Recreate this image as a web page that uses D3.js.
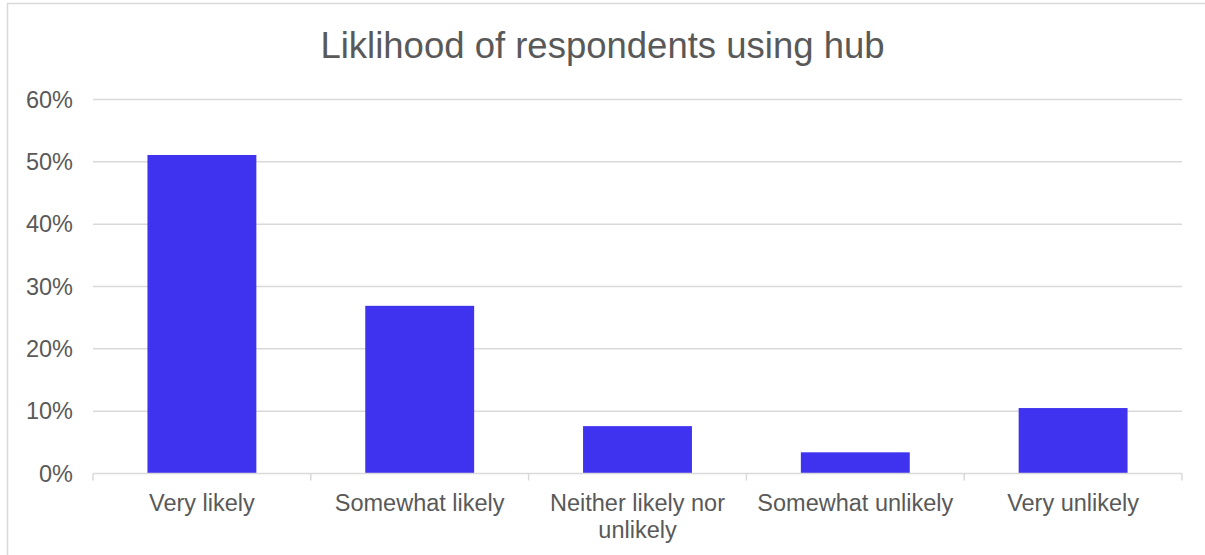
<!DOCTYPE html>
<html>
<head>
<meta charset="utf-8">
<style>
  body { margin: 0; background: #fff; }
  svg { display: block; font-family: "Liberation Sans", Arial, sans-serif; }
</style>
</head>
<body>
<svg id="chart" width="1205" height="555"></svg>
<script src="https://cdn.jsdelivr.net/npm/d3@7"></script>
<script>
// data
var categories = ["Very likely", "Somewhat likely", "Neither likely nor unlikely", "Somewhat unlikely", "Very unlikely"];
var values = [0.511, 0.269, 0.076, 0.034, 0.105];
var yTicks = [0, 0.1, 0.2, 0.3, 0.4, 0.5, 0.6];
var title = "Liklihood of respondents using hub";

var svg = d3.select("#chart");
var margin = { left: 93, right: 1182, top: 99.5, bottom: 473.5 };

// outer chart frame
svg.append("rect")
  .attr("x", 7.5).attr("y", 3.5)
  .attr("width", 1300).attr("height", 700)
  .attr("fill", "white")
  .attr("stroke", "#d9d9d9")
  .attr("stroke-width", 1.5);

var x = d3.scaleBand()
  .domain(categories)
  .range([margin.left, margin.right])
  .paddingInner(0.5)
  .paddingOuter(0.25);

var y = d3.scaleLinear()
  .domain([0, 0.6])
  .range([margin.bottom, margin.top]);

// gridlines
svg.append("g")
  .selectAll("line")
  .data(yTicks.filter(d => d > 0))
  .enter()
  .append("line")
  .attr("x1", margin.left).attr("x2", margin.right)
  .attr("y1", d => y(d)).attr("y2", d => y(d))
  .attr("stroke", "#d9d9d9")
  .attr("stroke-width", 1.5);

// y labels
var yAxis = d3.axisLeft(y).tickValues(yTicks).tickFormat(d3.format(".0%")).tickSize(0).tickPadding(20);
var yg = svg.append("g").attr("transform", "translate(" + margin.left + ",0)").call(yAxis);
yg.select(".domain").remove();
yg.selectAll("text")
  .attr("fill", "#595959")
  .attr("font-size", "23.5px")
  .attr("font-family", "Liberation Sans, Arial, sans-serif");

// bars
svg.append("g")
  .selectAll("rect")
  .data(values)
  .enter()
  .append("rect")
  .attr("x", (d, i) => x(categories[i]))
  .attr("width", x.bandwidth())
  .attr("y", d => y(d))
  .attr("height", d => y(0) - y(d))
  .attr("fill", "#4033ef");

// x axis line and ticks between categories
var step = x.step();
svg.append("line")
  .attr("x1", margin.left).attr("x2", margin.right)
  .attr("y1", y(0)).attr("y2", y(0))
  .attr("stroke", "#d9d9d9")
  .attr("stroke-width", 1.5);

svg.append("g")
  .selectAll("line")
  .data(d3.range(categories.length + 1))
  .enter()
  .append("line")
  .attr("x1", i => margin.left + i * step).attr("x2", i => margin.left + i * step)
  .attr("y1", y(0)).attr("y2", y(0) + 7)
  .attr("stroke", "#d9d9d9")
  .attr("stroke-width", 1.5);

// category labels, wrapped to the band width
var labels = svg.append("g")
  .selectAll("text")
  .data(categories)
  .enter()
  .append("text")
  .attr("text-anchor", "middle")
  .attr("fill", "#595959")
  .attr("font-size", "23.5px")
  .attr("x", d => x(d) + x.bandwidth() / 2)
  .attr("y", 511);

labels.each(function (d) {
  var t = d3.select(this);
  var words = d.split(" ");
  var line = [];
  var tspan = t.append("tspan").attr("x", t.attr("x")).attr("dy", 0);
  words.forEach(w => {
    line.push(w);
    tspan.text(line.join(" "));
    if (tspan.node().getComputedTextLength() > step - 10 && line.length > 1) {
      line.pop();
      tspan.text(line.join(" "));
      line = [w];
      tspan = t.append("tspan").attr("x", t.attr("x")).attr("dy", 27).text(w);
    }
  });
});

// title, centred on the whole chart frame
svg.append("text")
  .attr("x", 602.5)
  .attr("y", 58)
  .attr("text-anchor", "middle")
  .attr("fill", "#595959")
  .attr("font-size", "36.5px")
  .text(title);
</script>
</body>
</html>
